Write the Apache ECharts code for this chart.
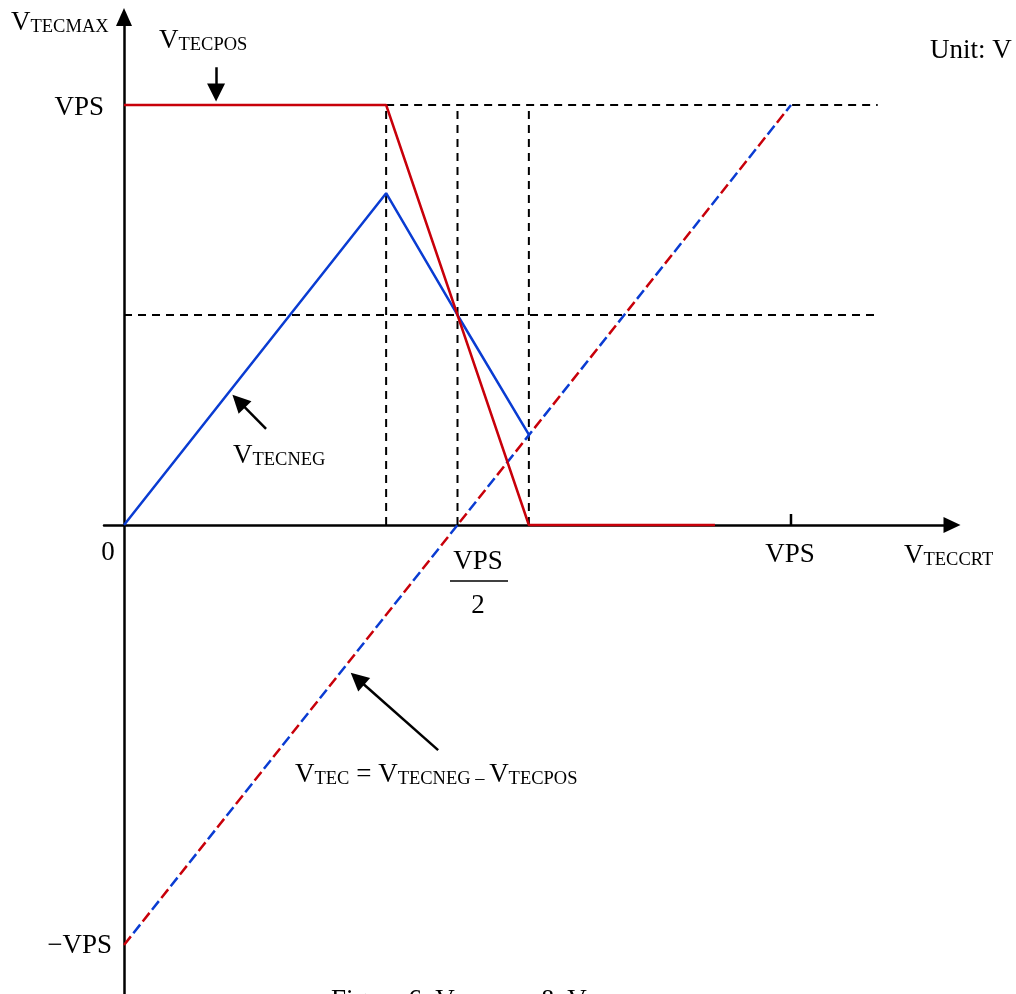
<!DOCTYPE html>
<html>
<head>
<meta charset="utf-8">
<script src="https://cdn.jsdelivr.net/npm/echarts@6/dist/echarts.min.js"></script>
<style>
html,body{margin:0;padding:0;background:#fff;}
#chart{width:1016px;height:994px;}
</style>
</head>
<body>
<div id="chart"></div>
<script>
// Values in units of VPS
const vTecPosX = [0, 0.393, 0.607, 0.886];
const vTecPosY = [1, 1, 0, 0];
const vTecNegX = [0, 0.393, 0.5, 0.607];
const vTecNegY = [0, 0.79, 0.5, 0.215];
const vTecX = [0, 1];
const vTecY = [-1, 1];
// dashed reference lines: [x1,y1,x2,y2]
const guideH = [[0.393, 1, 1.13, 1], [0, 0.5, 1.13, 0.5]];
const guideV = [[0.393, 0, 0.393, 1], [0.5, 0, 0.5, 0.99], [0.607, 0, 0.607, 0.99]];
const tickX = [1];
// annotation arrows [tailX, tailY, headX, headY]
const arrowPos = [0.138, 1.090, 0.138, 1.030];
const arrowNeg = [0.213, 0.229, 0.172, 0.295];
const arrowTec = [0.471, -0.536, 0.350, -0.366];

const RED = '#C8000A';
const BLUE = '#0A3CD2';
const FONT = '"Liberation Serif", "DejaVu Serif", serif';

const zip = (xs, ys) => xs.map((x, i) => [x, ys[i]]);

const guideSeries = guideH.concat(guideV).map(g => ({
  type: 'line', data: [[g[0], g[1]], [g[2], g[3]]], symbol: 'none', silent: true, z: 1,
  lineStyle: {color: '#000', width: 2, type: [8, 6]}
}));

const tickSeries = tickX.map(t => ({
  type: 'line', data: [[t, 0], [t, 0.026]], symbol: 'none', z: 2,
  lineStyle: {color: '#000', width: 2.5}
}));

const arrowSeries = {
  type: 'lines', coordinateSystem: 'cartesian2d', z: 5,
  symbol: ['none', 'triangle'], symbolSize: 18,
  lineStyle: {color: '#000', width: 2.5, opacity: 1},
  itemStyle: {color: '#000'},
  data: [arrowPos, arrowNeg, arrowTec].map(a => ({coords: [[a[0], a[1]], [a[2], a[3]]]}))
};

function rich() {
  return {
    m: {fontFamily: FONT, fontSize: 27, fill: '#000', verticalAlign: 'bottom'},
    s: {fontFamily: FONT, fontSize: 18.5, fill: '#000', verticalAlign: 'bottom'}
  };
}
function txt(text, x, y, align, richText) {
  const el = {type: 'text', x: x, y: y, z: 10, style: {
    text: text, fontFamily: FONT, fontSize: 27, fill: '#000',
    align: align || 'left', verticalAlign: 'middle'
  }};
  if (richText) el.style.rich = rich();
  return el;
}

const chart = echarts.init(document.getElementById('chart'), null, {renderer: 'canvas'});
chart.setOption({
  animation: false,
  backgroundColor: '#fff',
  grid: {left: 104, right: 64, top: 17, bottom: 0, containLabel: false},
  xAxis: {
    type: 'value', min: -0.03, max: 1.2414,
    splitLine: {show: false}, axisLabel: {show: false}, axisTick: {show: false},
    axisLine: {show: true, onZero: true, symbol: ['none', 'triangle'], symbolSize: [16, 17],
      lineStyle: {color: '#000', width: 2.5}}
  },
  yAxis: {
    type: 'value', min: -1.1167, max: 1.2095,
    splitLine: {show: false}, axisLabel: {show: false}, axisTick: {show: false},
    axisLine: {show: true, onZero: true, symbol: ['none', 'triangle'], symbolSize: [16, 18],
      lineStyle: {color: '#000', width: 2.5}}
  },
  series: guideSeries.concat(tickSeries).concat([
    {type: 'line', name: 'VTEC red', data: zip(vTecX, vTecY), symbol: 'none', z: 3,
      lineStyle: {color: RED, width: 2.5, type: [11, 19], dashOffset: 0}},
    {type: 'line', name: 'VTEC blue', data: zip(vTecX, vTecY), symbol: 'none', z: 3,
      lineStyle: {color: BLUE, width: 2.5, type: [11, 19], dashOffset: 15}},
    {type: 'line', name: 'VTECNEG', data: zip(vTecNegX, vTecNegY), symbol: 'none', z: 4,
      lineStyle: {color: BLUE, width: 2.5}},
    {type: 'line', name: 'VTECPOS', data: zip(vTecPosX, vTecPosY), symbol: 'none', z: 4,
      lineStyle: {color: RED, width: 2.5}},
    arrowSeries
  ]),
  graphic: [
    txt('{m|V}{s|TECMAX}', 11, 23, 'left', true),
    txt('{m|V}{s|TECPOS}', 159, 41, 'left', true),
    txt('VPS', 104, 108, 'right'),
    txt('0', 108, 553, 'center'),
    txt('\u2212VPS', 112, 946, 'right'),
    txt('VPS', 790, 555, 'center'),
    txt('{m|V}{s|TECCRT}', 904, 556, 'left', true),
    txt('Unit: V', 930, 51, 'left'),
    txt('VPS', 478, 562, 'center'),
    {type: 'line', z: 10, shape: {x1: 450, y1: 581, x2: 508, y2: 581}, style: {stroke: '#000', lineWidth: 1.5}},
    txt('2', 478, 606, 'center'),
    txt('{m|V}{s|TECNEG}', 233, 456, 'left', true),
    txt('{m|V}{s|TEC}{m| = V}{s|TECNEG – }{m|V}{s|TECPOS}', 295, 775, 'left', true),
    txt('{m|Figure 6. V}{s|TECMAX}{m| & V}{s|TEC}', 331, 1001, 'left', true)
  ]
});
</script>
</body>
</html>
